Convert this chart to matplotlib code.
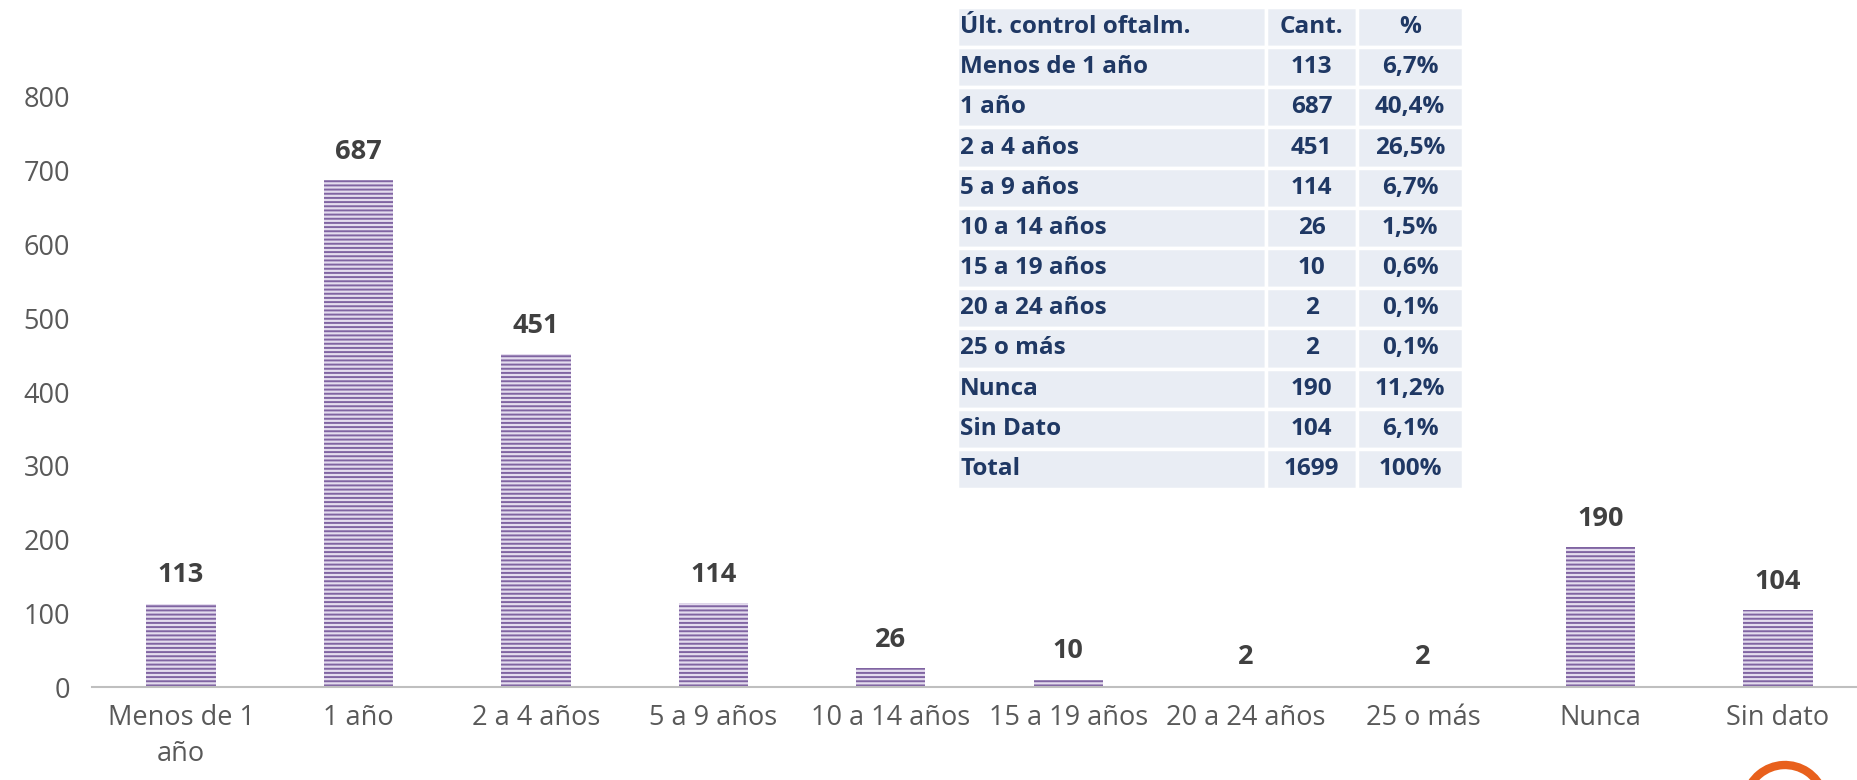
import matplotlib
matplotlib.use("Agg")
import matplotlib.pyplot as plt
from matplotlib.patches import Arc

# ----------------------------
# Datos
categorias = ["Menos de 1\naño", "1 año", "2 a 4 años", "5 a 9 años", "10 a 14 años",
              "15 a 19 años", "20 a 24 años", "25 o más", "Nunca", "Sin dato"]
valores = [113, 687, 451, 114, 26, 10, 2, 2, 190, 104]

tabla_header = ["Últ. control oftalm.", "Cant.", "%"]
tabla_cat = ["Menos de 1 año", "1 año", "2 a 4 años", "5 a 9 años", "10 a 14 años",
             "15 a 19 años", "20 a 24 años", "25 o más", "Nunca", "Sin Dato", "Total"]
tabla_cant = ["113", "687", "451", "114", "26", "10", "2", "2", "190", "104", "1699"]
tabla_pct = ["6,7%", "40,4%", "26,5%", "6,7%", "1,5%", "0,6%", "0,1%", "0,1%",
             "11,2%", "6,1%", "100%"]
# ----------------------------

plt.rcParams["font.family"] = ["Open Sans", "DejaVu Sans"]
plt.rcParams["hatch.linewidth"] = 1.4

GRIS = "#595959"
MORADO = "#8064A2"
AZUL = "#1F3864"

fig = plt.figure(figsize=(18.58, 7.8), dpi=100)
ax = fig.add_axes([0.0497, 0.1192, 0.955, 0.851])

x = list(range(len(categorias)))
ax.bar(x, valores, width=0.39, color="#E4DCEE", edgecolor=MORADO,
       hatch="----", linewidth=0)

for xi, v in zip(x, valores):
    ax.annotate(str(v), (xi, v), xytext=(0, 11), textcoords="offset points",
                ha="center", va="bottom", fontsize=19.5, fontweight="bold",
                color="#404040")

ax.set_xlim(-0.5, 9.5)
ax.set_ylim(0, 900)
ax.set_yticks(range(0, 900, 100))
ax.set_xticks(x)
ax.set_xticklabels(categorias, linespacing=1.4)
ax.tick_params(axis="both", length=0, labelsize=19.5, labelcolor=GRIS)
ax.tick_params(axis="y", pad=16)
ax.tick_params(axis="x", pad=12)
for s in ["top", "right", "left"]:
    ax.spines[s].set_visible(False)
ax.spines["bottom"].set_color("#BFBFBF")
ax.spines["bottom"].set_linewidth(1.5)

# Tabla
tax = fig.add_axes([957 / 1858, 1 - 489 / 780, 506 / 1858, 482 / 780])
tax.axis("off")
filas = [tabla_header] + [[c, n, p] for c, n, p in zip(tabla_cat, tabla_cant, tabla_pct)]
tbl = tax.table(cellText=filas, colWidths=[309 / 506, 91 / 506, 106 / 506],
                bbox=[0, 0, 1, 1], cellLoc="center")
tbl.auto_set_font_size(False)
for (r, c), cell in tbl.get_celld().items():
    cell.set_facecolor("#E9EDF4")
    cell.set_edgecolor("white")
    cell.set_linewidth(2.5)
    cell.get_text().set_fontsize(17.5)
    cell.get_text().set_fontweight("bold")
    cell.get_text().set_color(AZUL)
    if c == 0:
        cell.get_text().set_ha("left")
        cell.PAD = 0.01

# logo parcial abajo a la derecha
fig.patches.append(Arc((1785 / 1858, 1 - 805 / 780), 80 / 1858, 80 / 780,
                       theta1=40, theta2=150, color="#E8601C", lw=6,
                       transform=fig.transFigure))

fig.savefig("out.png", dpi=100)
